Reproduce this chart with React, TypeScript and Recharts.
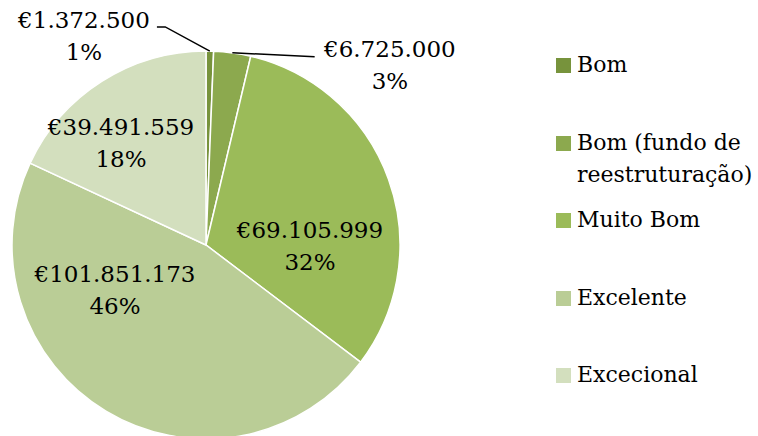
import React from "react";
import { PieChart, Pie, Cell, Legend } from "recharts";

const categories = ["Bom", "Bom (fundo de reestruturação)", "Muito Bom", "Excelente", "Excecional"];
const legendLines = [["Bom"], ["Bom (fundo de", "reestruturação)"], ["Muito Bom"], ["Excelente"], ["Excecional"]];
const values = [1372500, 6725000, 69105999, 101851173, 39491559];
const percentLabels = ["1%", "3%", "32%", "46%", "18%"];
const colors = ["#77933C", "#8CA94E", "#9BBB59", "#BACD96", "#D3DFBE"];

const FONT = "'DejaVu Serif', serif";
const FS = 23;
const LFS = 22;

const data = categories.map((name, i) => ({ name, value: values[i], pct: percentLabels[i] }));

const fmt = (v: number) => "€" + String(v).replace(/\B(?=(\d{3})+(?!\d))/g, ".");

// label placement hints (relative to pie centre, in units of radius)
const labelCfg = [
  { type: "out", elbow: [-0.21, -1.124], end: [-0.253, -1.124], tx: -0.629, ty: -1.119 },
  { type: "out", elbow: [0.56, -0.97], end: [0.56, -0.97], tx: 0.948, ty: -0.969 },
  { type: "in", tx: 0.536, ty: -0.036 },
  { type: "in", tx: -0.469, ty: 0.191 },
  { type: "in", tx: -0.438, ty: -0.567 },
];

const renderLabel = (props: any) => {
  const { cx, cy, midAngle, outerRadius, index, value } = props;
  const cfg = labelCfg[index];
  const R = outerRadius;
  const RAD = Math.PI / 180;
  const line1 = fmt(value);
  const line2 = percentLabels[index];
  const x = cx + cfg.tx * R;
  const y = cy + cfg.ty * R;
  const txt = (
    <text x={x} y={y} textAnchor="middle" fontFamily={FONT} fontSize={FS} fill="#000">
      <tspan x={x} dy={0}>{line1}</tspan>
      <tspan x={x} dy={32}>{line2}</tspan>
    </text>
  );
  if (cfg.type === "in") return txt;
  const sx = cx + R * Math.cos(-midAngle * RAD);
  const sy = cy + R * Math.sin(-midAngle * RAD);
  const ex = cx + cfg.elbow![0] * R;
  const ey = cy + cfg.elbow![1] * R;
  const fx = cx + cfg.end![0] * R;
  const fy = cy + cfg.end![1] * R;
  return (
    <g>
      <polyline points={`${sx},${sy} ${ex},${ey} ${fx},${fy}`} fill="none" stroke="#000" strokeWidth={1.5} />
      {txt}
    </g>
  );
};

const renderLegend = () => (
  <div style={{ fontFamily: FONT, fontSize: LFS, color: "#000" }}>
    {categories.map((c, i) => (
      <div key={c} style={{ height: 77.5, display: "flex", alignItems: "flex-start" }}>
        <div style={{ width: 15, height: 15, background: colors[i], marginTop: 8, marginRight: 6, flex: "none" }} />
        <div style={{ lineHeight: "32px", marginTop: -1, whiteSpace: "nowrap" }}>
          {legendLines[i].map((l) => (
            <div key={l}>{l}</div>
          ))}
        </div>
      </div>
    ))}
  </div>
);

export default function App() {
  return (
    <div style={{ position: "absolute", left: 0, top: 0, width: 758, height: 436, background: "#fff" }}>
      <PieChart width={758} height={436} margin={{ top: 0, right: 0, bottom: 0, left: 0 }}>
        <Pie
          data={data}
          dataKey="value"
          nameKey="name"
          cx={206}
          cy={245}
          outerRadius={194}
          startAngle={90}
          endAngle={-270}
          stroke="#fff"
          strokeWidth={1.5}
          label={renderLabel}
          labelLine={false}
          isAnimationActive={false}
        >
          {data.map((d, i) => (
            <Cell key={d.name} fill={colors[i]} />
          ))}
        </Pie>
        <Legend
          content={renderLegend}
          wrapperStyle={{ position: "absolute", left: 556, top: 50, width: 202 }}
        />
      </PieChart>
    </div>
  );
}
